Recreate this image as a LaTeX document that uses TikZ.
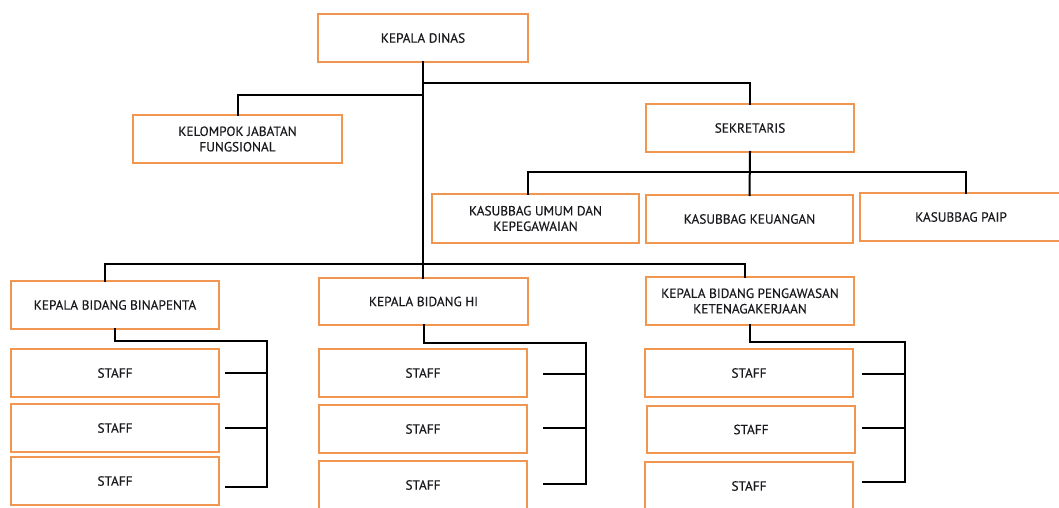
\documentclass[tikz,border=0pt]{standalone}
\usepackage{fontspec}
\setmainfont{PT Sans}[FakeBold=0.35]
\usetikzlibrary{calc}
\definecolor{boxorange}{RGB}{240,150,80}
\definecolor{txt}{RGB}{25,25,30}
\tikzset{
  orgbox/.style={draw=boxorange, line width=1.2pt, fill=white, inner sep=0pt, outer sep=0pt,
    align=center, text=txt, font=\fontsize{13.3}{15.5}\selectfont},
  conn/.style={draw=black, line width=2pt, line cap=rect},
}
\newcommand{\bx}[6]{% name, x1, y1, x2, y2, text
  \node[orgbox, minimum width={(#4-#2)*1pt}, minimum height={(#5-#3)*1pt}]
    (#1) at ({(#2+#4)/2*1pt},{-(#3+#5)/2*1pt}) {#6};}
\begin{document}
\begin{tikzpicture}[x=1pt,y=-1pt]
\clip (0,0) rectangle (1059,507);
\fill[white] (0,0) rectangle (1059,507);
% boxes
\bx{kd}{318}{14}{528}{62}{KEPALA DINAS}
\bx{kjf}{133}{115}{342}{163}{KELOMPOK JABATAN\\FUNGSIONAL}
\bx{sek}{646}{104}{854}{152}{SEKRETARIS}
\bx{ku}{432}{194}{639}{243}{KASUBBAG UMUM DAN\\KEPEGAWAIAN}
\bx{kk}{646}{195}{853}{243}{KASUBBAG KEUANGAN}
\bx{kp}{860}{193}{1062}{241}{KASUBBAG PAIP}
\bx{bin}{11}{281}{219}{329}{KEPALA BIDANG BINAPENTA}
\bx{hi}{319}{278}{528}{325}{KEPALA BIDANG HI}
\bx{pk}{646}{277}{854}{325}{KEPALA BIDANG PENGAWASAN\\KETENAGAKERJAAN}
\bx{s11}{11}{349}{219}{397}{STAFF}
\bx{s12}{11}{404}{219}{452}{STAFF}
\bx{s13}{11}{457}{219}{505}{STAFF}
\bx{s21}{319}{349}{527}{397}{STAFF}
\bx{s22}{319}{405}{527}{453}{STAFF}
\bx{s23}{319}{461}{527}{509}{STAFF}
\bx{s31}{645}{349}{853}{397}{STAFF}
\bx{s32}{647}{406}{855}{453}{STAFF}
\bx{s33}{645}{462}{853}{510}{STAFF}
% junction coordinates
\coordinate (j1) at (423,83);
\coordinate (j2) at (423,95);
\coordinate (a1) at (528,172);
\coordinate (a3) at (966,172);
\coordinate (c1) at (105,264);
\coordinate (c3) at (745,264);
\coordinate (r1t) at (267,341);
\coordinate (r1b) at (267,487);
\coordinate (r2t) at (586,343);
\coordinate (r2b) at (586,484);
\coordinate (r3t) at (905,342);
\coordinate (r3b) at (905,482);
\coordinate (t11) at (226,373);
\coordinate (t12) at (226,428);
\coordinate (t13) at (226,487);
\coordinate (t21) at (544,374);
\coordinate (t22) at (544,428);
\coordinate (t23) at (544,484);
\coordinate (t31) at (863,374);
\coordinate (t32) at (863,428);
\coordinate (t33) at (863,482);
% connectors
\draw[conn] (kd.south) -- (kd.south |- hi.north);
\draw[conn] (j1) -| (sek.north);
\draw[conn] (j2) -| (kjf.north);
\draw[conn] (sek.south) -- (kk.north);
\draw[conn] (a1 |- ku.north) -- (a1) -- (a3) -- (a3 |- kp.north);
\draw[conn] (c1 |- bin.north) -- (c1) -- (c3) -- (c3 |- pk.north);
\draw[conn] (bin.south) -- (bin.south |- r1t) -- (r1t) -- (r1b);
\draw[conn] (hi.south) -- (hi.south |- r2t) -- (r2t) -- (r2b);
\draw[conn] (pk.south) -- (pk.south |- r3t) -- (r3t) -- (r3b);
\draw[conn] (t11) -- (t11 -| r1t);
\draw[conn] (t12) -- (t12 -| r1t);
\draw[conn] (t13) -- (r1b);
\draw[conn] (t21) -- (t21 -| r2t);
\draw[conn] (t22) -- (t22 -| r2t);
\draw[conn] (t23) -- (r2b);
\draw[conn] (t31) -- (t31 -| r3t);
\draw[conn] (t32) -- (t32 -| r3t);
\draw[conn] (t33) -- (r3b);
\end{tikzpicture}
\end{document}
